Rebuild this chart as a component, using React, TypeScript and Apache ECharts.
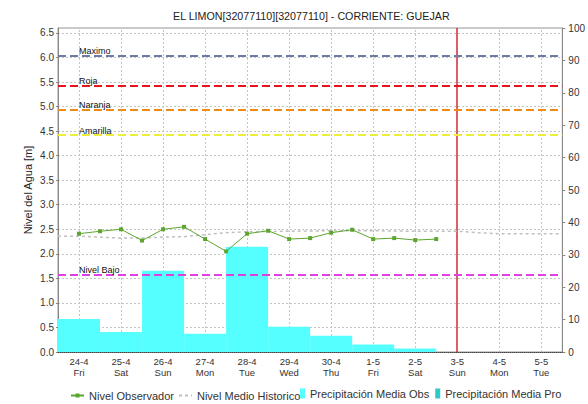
import React, { useEffect, useRef } from 'react';
import * as echarts from 'echarts';

const chartTitle = 'EL LIMON[32077110][32077110] - CORRIENTE: GUEJAR';
const yAxisName = 'Nivel del Agua [m]';
const dayLabels = ['24-4', '25-4', '26-4', '27-4', '28-4', '29-4', '30-4', '1-5', '2-5', '3-5', '4-5', '5-5'];
const weekdays = ['Fri', 'Sat', 'Sun', 'Mon', 'Tue', 'Wed', 'Thu', 'Fri', 'Sat', 'Sun', 'Mon', 'Tue'];

// precipitation (right axis)
const precipObs = [10.2, 6.2, 25.1, 5.6, 32.5, 7.8, 5.0, 2.3, 1.1, null, null, null];
const precipPro = [null, null, null, null, null, null, null, null, null, null, null, null];

// observed level, time in days from 24-4 (half-day steps)
const obsTimes = [0, 0.5, 1, 1.5, 2, 2.5, 3, 3.5, 4, 4.5, 5, 5.5, 6, 6.5, 7, 7.5, 8, 8.5];
const obsLevels = [2.41, 2.46, 2.5, 2.27, 2.5, 2.55, 2.3, 2.05, 2.41, 2.47, 2.3, 2.32, 2.43, 2.49, 2.3, 2.32, 2.28, 2.3];

// historic mean level
const histTimes = [-0.5, 0, 0.5, 1, 1.5, 2, 2.5, 3, 3.5, 4, 5, 6, 7, 8, 9, 9.5, 10, 11, 11.5];
const histLevels = [2.36, 2.36, 2.34, 2.32, 2.32, 2.34, 2.35, 2.39, 2.43, 2.45, 2.46, 2.47, 2.47, 2.46, 2.46, 2.43, 2.41, 2.41, 2.41];

// thresholds
const thresholdNames = ['Maximo', 'Roja', 'Naranja', 'Amarilla', 'Nivel Bajo'];
const thresholdLevels = [6.03, 5.42, 4.93, 4.42, 1.57];
const thresholdColors = ['#6e7ba3', '#e8141c', '#ef8a14', '#eded3a', '#e040e0'];

const currentDay = '3-5';

const seriesNames = ['Nivel Observador', 'Nivel Medio Historico', 'Precipitación Media Obs', 'Precipitación Media Pro'];

export default function App() {
  const ref = useRef<HTMLDivElement>(null);
  useEffect(() => {
    if (!ref.current) return;
    const chart = echarts.init(ref.current, null, { renderer: 'svg' });
    const font = 'Liberation Sans, Arial, sans-serif';
    const gridLine = { color: '#c4c4c4', type: [2, 2], width: 1 };
    const option: any = {
      animation: false,
      backgroundColor: '#ffffff',
      textStyle: { fontFamily: font },
      title: {
        text: chartTitle,
        left: 173,
        top: 10,
        padding: 0,
        textStyle: { fontSize: 10.7, fontWeight: 'normal', color: '#222', fontFamily: font },
      },
      legend: [
        {
          data: [
            { name: seriesNames[0] },
            { name: seriesNames[1], itemStyle: { opacity: 0 } },
          ],
          left: 70,
          top: 390,
          padding: 0,
          itemWidth: 13,
          itemHeight: 5,
          itemGap: 4,
          textStyle: { fontSize: 11, color: '#333', fontFamily: font },
        },
        {
          data: [
            { name: seriesNames[2], icon: 'rect' },
            { name: seriesNames[3], icon: 'rect' },
          ],
          left: 300,
          top: 388,
          padding: 0,
          itemWidth: 5,
          itemHeight: 10,
          itemGap: 6,
          textStyle: { fontSize: 11, color: '#333', fontFamily: font },
        },
      ],
      grid: { left: 58, right: 25, top: 28, bottom: 52, show: true, borderColor: '#999', borderWidth: 1, backgroundColor: 'transparent' },
      xAxis: [
        {
          type: 'category',
          data: dayLabels,
          boundaryGap: true,
          axisLine: { show: true, onZero: false, lineStyle: { color: '#444', type: [1, 1] } },
          axisTick: { show: false },
          axisLabel: {
            fontSize: 9.5,
            color: '#333',
            margin: 4,
            lineHeight: 11,
            interval: 0,
            formatter: (v: string, i: number) => v + '\n' + weekdays[i],
          },
          splitLine: { show: false },
          z: 5,
        },
        {
          type: 'value',
          min: -0.5,
          max: 11.5,
          show: false,
        },
      ],
      yAxis: [
        {
          type: 'value',
          name: yAxisName,
          nameLocation: 'middle',
          nameGap: 25,
          nameMoveOverlap: false,
          nameTextStyle: { fontSize: 11, color: '#222', fontFamily: font },
          min: 0,
          max: 6.6,
          interval: 0.5,
          axisLine: { show: true, onZero: false, lineStyle: { color: '#888' } },
          axisTick: { show: true, length: 2, lineStyle: { color: '#888' } },
          axisLabel: {
            fontSize: 10,
            color: '#333',
            margin: 4,
            showMaxLabel: false,
            formatter: (v: number) => v.toFixed(1),
          },
          splitLine: { show: true, lineStyle: gridLine },
        },
        {
          type: 'value',
          position: 'right',
          min: 0,
          max: 100,
          interval: 10,
          axisLine: { show: true, onZero: false, lineStyle: { color: '#888' } },
          axisTick: { show: true, length: 3, lineStyle: { color: '#888' } },
          axisLabel: { fontSize: 10, color: '#333', margin: 6 },
          splitLine: { show: false },
        },
      ],
      series: [
        {
          name: seriesNames[2],
          type: 'bar',
          xAxisIndex: 0,
          yAxisIndex: 1,
          data: precipObs,
          barWidth: '100%',
          barGap: '-100%',
          itemStyle: { color: '#55ffff' },
          z: 2,
        },
        {
          name: seriesNames[3],
          type: 'bar',
          xAxisIndex: 0,
          yAxisIndex: 1,
          data: precipPro,
          barWidth: '100%',
          barGap: '-100%',
          itemStyle: { color: '#33c8c8' },
          z: 2,
          markLine: {
            silent: true,
            z: 1,
            symbol: ['none', 'none'],
            label: { show: false },
            data: dayLabels.map((d) =>
              d === currentDay
                ? { xAxis: d, lineStyle: { color: '#cc2b36', type: 'solid', width: 1.5 } }
                : { xAxis: d, lineStyle: { color: '#c4c4c4', type: [2, 2], width: 1 } }
            ),
          },
        },
        {
          name: seriesNames[1],
          type: 'line',
          xAxisIndex: 1,
          yAxisIndex: 0,
          data: histTimes.map((t, i) => [t, histLevels[i]]),
          showSymbol: false,
          symbol: 'none',
          itemStyle: { color: '#c0c0c0' },
          lineStyle: { color: '#c0c0c0', width: 1.5, type: [3, 3] },
          z: 3,
        },
        {
          name: seriesNames[0],
          type: 'line',
          xAxisIndex: 1,
          yAxisIndex: 0,
          data: obsTimes.map((t, i) => [t, obsLevels[i]]),
          symbol: 'rect',
          symbolSize: 4,
          itemStyle: { color: '#5ca62e' },
          lineStyle: { color: '#5ca62e', width: 1 },
          z: 4,
          markLine: {
            silent: true,
            symbol: ['none', 'none'],
            data: thresholdNames.map((n, i) => ({
              name: n,
              yAxis: thresholdLevels[i],
              lineStyle: { color: thresholdColors[i], type: [8, 4], width: 2 },
            })),
            label: {
              show: true,
              position: 'insideStartTop',
              distance: [21, 0],
              formatter: (p: any) => p.name,
              fontSize: 9,
              color: '#111',
              fontFamily: font,
            },
          },
        },
      ],
    };
    chart.setOption(option);
    return () => chart.dispose();
  }, []);
  return (
    <div
      ref={ref}
      style={{ position: 'fixed', left: 0, top: 0, width: 588, height: 404, background: '#fff' }}
    />
  );
}
